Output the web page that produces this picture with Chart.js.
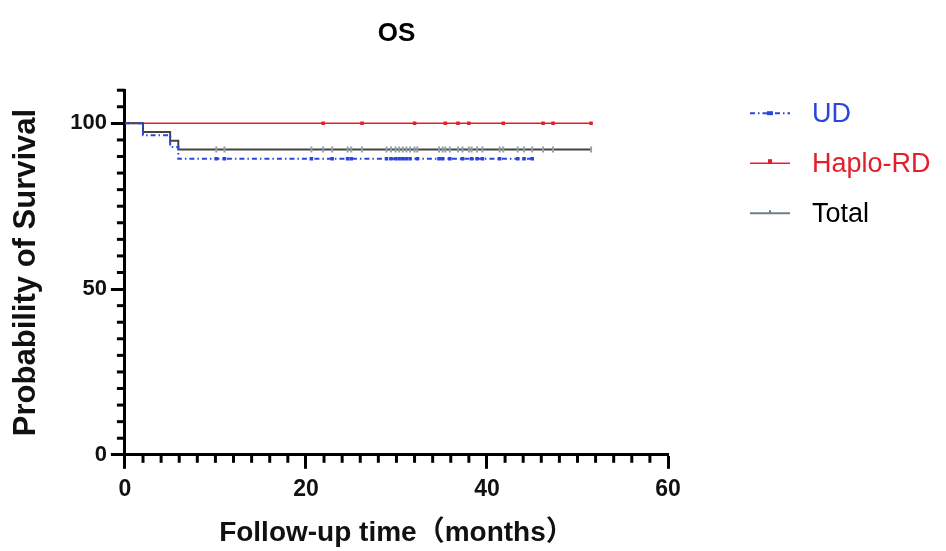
<!DOCTYPE html>
<html>
<head>
<meta charset="utf-8">
<title>OS</title>
<script src="https://cdn.jsdelivr.net/npm/chart.js@4.4.1/dist/chart.umd.min.js"></script>
<style>
  html, body { margin: 0; padding: 0; background: #fff; }
  #wrap { width: 946px; height: 551px; }
</style>
</head>
<body>
<div id="wrap"><canvas id="osChart"></canvas></div>
<script>
const FONT = "'Liberation Sans', Arial, 'Noto Sans CJK SC', sans-serif";
const BLUE = "#2a45e0";
const RED = "#e2202c";
const DARK = "#444";
const GREY = "#93a0a8";

// Kaplan-Meier steps: follow-up months and % surviving
const udTimes = [0, 2.0, 5.0, 5.9, 45.0];
const udSurv = [100, 96.43, 92.86, 89.29, 89.29];
const haploTimes = [0, 51.5];
const haploSurv = [100, 100];
const totalTimes = [0, 2.0, 5.0, 5.9, 51.5];
const totalSurv = [100, 97.37, 94.74, 92.11, 92.11];

// censored patients (months)
const udCensor = [10.1, 11.0, 20.6, 22.9, 24.6, 25.0, 28.9, 29.4, 29.9, 30.3, 30.7, 31.1, 31.5, 32.3,
  34.7, 35.1, 35.9, 37.3, 38.3, 38.9, 39.5, 41.4, 43.4, 44.1, 45.0];
const haploCensor = [21.9, 26.2, 32.0, 35.4, 36.8, 38.0, 41.8, 46.2, 47.3, 51.5];
const totalCensor = udCensor.concat(haploCensor).sort((a, b) => a - b);

const xTicks = [0, 20, 40, 60];
const yTicks = [0, 50, 100];
const legendNames = ["UD", "Haplo-RD", "Total"];

// minor axis ticks every 2 months / 5 %
const xMinor = [];
for (let v = 2; v < 60; v += 2) if (v % 20) xMinor.push(v);
const yMinor = [];
for (let v = 5; v <= 110; v += 5) if (v % 50) yMinor.push(v);

function steps(times, surv) {
  return times.map((t, i) => ({ x: t, y: surv[i] }));
}
function survAt(times, surv, t) {
  let s = surv[0];
  times.forEach((tt, i) => { if (tt <= t) s = surv[i]; });
  return s;
}
function marks(censor, times, surv) {
  return censor.map((t) => ({ x: t, y: survAt(times, surv, t) }));
}

const minorTicks = {
  id: "minorTicks",
  afterDraw(chart) {
    const { ctx, chartArea } = chart;
    const xs = chart.scales.x, ys = chart.scales.y;
    ctx.save();
    ctx.strokeStyle = "#000";
    ctx.lineWidth = 3;
    xMinor.forEach((v) => {
      const px = xs.getPixelForValue(v);
      ctx.beginPath();
      ctx.moveTo(px, chartArea.bottom);
      ctx.lineTo(px, chartArea.bottom + 8);
      ctx.stroke();
    });
    yMinor.forEach((v) => {
      const py = ys.getPixelForValue(v);
      ctx.beginPath();
      ctx.moveTo(chartArea.left - 8, py);
      ctx.lineTo(chartArea.left, py);
      ctx.stroke();
    });
    ctx.restore();
  },
};

const sideLegend = {
  id: "sideLegend",
  afterDraw(chart) {
    const { ctx, chartArea } = chart;
    const x0 = chartArea.right + 82, x1 = x0 + 40, xm = (x0 + x1) / 2;
    const items = [
      { color: BLUE, text: BLUE, dash: [5, 3, 1.5, 3], width: 2 },
      { color: RED, text: RED, dash: [], width: 1.5 },
      { color: "#6e7f86", text: "#000", dash: [], width: 2 },
    ];
    ctx.save();
    items.forEach((it, i) => {
      const y = chartArea.top + 23 + i * 50;
      ctx.strokeStyle = it.color;
      ctx.lineWidth = it.width;
      ctx.setLineDash(it.dash);
      ctx.beginPath();
      ctx.moveTo(x0, y);
      ctx.lineTo(x1, y);
      ctx.stroke();
      ctx.setLineDash([]);
      ctx.fillStyle = it.color;
      if (i === 0) ctx.fillRect(xm - 3, y - 2, 6, 4);
      if (i === 1) ctx.fillRect(xm - 2, y - 4, 4, 4);
      if (i === 2) ctx.fillRect(xm - 1, y - 3, 2, 3);
      ctx.fillStyle = it.text;
      ctx.font = "27px " + FONT;
      ctx.textBaseline = "middle";
      ctx.textAlign = "left";
      ctx.fillText(legendNames[i], x1 + 22, y + 1);
    });
    ctx.restore();
  },
};

const axisLine = { display: true, width: 3, color: "#000" };
const tickGrid = { display: true, drawOnChartArea: false, drawTicks: true, tickLength: 14, tickWidth: 3, tickColor: "#000" };

new Chart(document.getElementById("osChart"), {
  type: "line",
  data: {
    datasets: [
      {
        label: legendNames[0] + " censored",
        data: marks(udCensor, udTimes, udSurv),
        showLine: false,
        pointStyle: "rect",
        pointRadius: 2.5,
        pointBackgroundColor: BLUE,
        pointBorderColor: BLUE,
        pointBorderWidth: 0,
      },
      {
        label: legendNames[0],
        data: steps(udTimes, udSurv),
        stepped: true,
        borderColor: BLUE,
        borderWidth: 2,
        borderDash: [5, 3, 1.5, 3],
        pointRadius: 0,
        fill: false,
      },
      {
        label: legendNames[2] + " censored",
        data: marks(totalCensor, totalTimes, totalSurv),
        showLine: false,
        pointStyle: "line",
        rotation: 90,
        pointRadius: 3,
        pointBorderWidth: 2,
        pointBorderColor: GREY,
      },
      {
        label: legendNames[2],
        data: steps(totalTimes, totalSurv),
        stepped: true,
        borderColor: DARK,
        borderWidth: 2,
        pointRadius: 0,
        fill: false,
      },
      {
        label: legendNames[1] + " censored",
        data: marks(haploCensor, haploTimes, haploSurv),
        showLine: false,
        pointStyle: "rect",
        pointRadius: 2.5,
        pointBackgroundColor: RED,
        pointBorderColor: RED,
        pointBorderWidth: 0,
      },
      {
        label: legendNames[1],
        data: steps(haploTimes, haploSurv),
        stepped: true,
        borderColor: RED,
        borderWidth: 1.5,
        pointRadius: 0,
        fill: false,
      },
    ],
  },
  options: {
    responsive: true,
    maintainAspectRatio: false,
    animation: false,
    layout: { padding: { left: 0, right: 278, top: 10, bottom: 1 } },
    plugins: { legend: { display: false }, tooltip: { enabled: false } },
    scales: {
      top: {
        type: "linear",
        position: "top",
        min: 0,
        max: 60,
        grid: { display: false, drawTicks: false },
        border: { display: false },
        ticks: { display: false },
        title: {
          display: true,
          text: "OS",
          color: "#000",
          font: { family: FONT, size: 26, weight: "bold" },
          padding: { top: 8, bottom: 41 },
        },
      },
      x: {
        type: "linear",
        position: "bottom",
        min: 0,
        max: 60,
        afterBuildTicks: (axis) => { axis.ticks = xTicks.map((v) => ({ value: v })); },
        grid: tickGrid,
        border: axisLine,
        ticks: { color: "#111", padding: 7, maxRotation: 0, font: { family: FONT, size: 23, weight: "bold" } },
        title: {
          display: true,
          text: "Follow-up time（months）",
          color: "#111",
          font: { family: FONT, size: 28, weight: "bold" },
          padding: { top: 6, bottom: 0 },
        },
      },
      y: {
        type: "linear",
        min: 0,
        max: 110,
        afterBuildTicks: (axis) => { axis.ticks = yTicks.map((v) => ({ value: v })); },
        grid: tickGrid,
        border: axisLine,
        ticks: { color: "#111", padding: 4, font: { family: FONT, size: 22, weight: "bold" } },
        title: {
          display: true,
          text: "Probability of Survival",
          color: "#111",
          font: { family: FONT, size: 31, weight: "bold" },
          padding: { top: 8, bottom: 21 },
        },
      },
    },
  },
  plugins: [minorTicks, sideLegend],
});
</script>
</body>
</html>
